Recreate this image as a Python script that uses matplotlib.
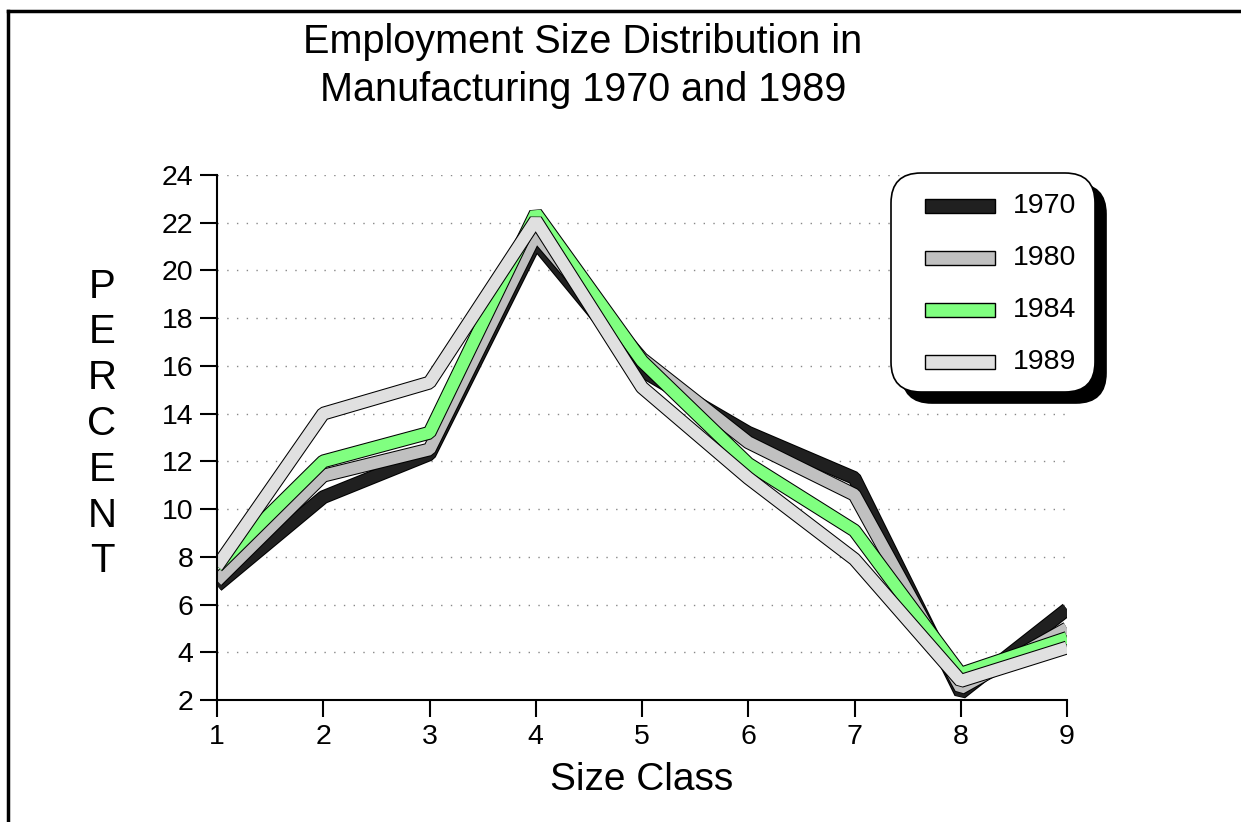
import numpy as np
import matplotlib.pyplot as plt
import matplotlib.patheffects as pe
from matplotlib.patches import FancyBboxPatch, Rectangle
from matplotlib.lines import Line2D
from matplotlib.transforms import Affine2D

plt.rcParams['font.family'] = ['Liberation Sans', 'DejaVu Sans']

size_class = [1, 2, 3, 4, 5, 6, 7, 8, 9]
pct_1970 = [6.8, 10.5, 12.3, 21.2, 15.8, 13.2, 11.3, 2.3, 5.8]
pct_1980 = [7.0, 11.4, 12.5, 21.5, 16.3, 12.8, 10.6, 2.5, 5.0]
pct_1984 = [7.6, 12.0, 13.2, 22.4, 16.2, 11.9, 9.1, 3.1, 4.6]
pct_1989 = [7.6, 14.0, 15.3, 22.1, 15.1, 11.3, 7.9, 2.8, 4.2]

years = ['1970', '1980', '1984', '1989']
colors = ['#202020', '#c0c0c0', '#80ff80', '#e0e0e0']
series = [pct_1970, pct_1980, pct_1984, pct_1989]

W, H = 1241, 822
fig = plt.figure(figsize=(W / 100, H / 100), dpi=100)
# pixel coordinates, y pointing down
px = Affine2D().scale(1 / W, -1 / H).translate(0, 1) + fig.transFigure

ax = fig.add_axes([217 / W, 1 - 700 / H, (1067 - 217) / W, (700 - 175) / H])

for vals, c in zip(series, colors):
    ax.plot(size_class, vals, color=c, lw=8.5, solid_joinstyle='bevel',
            solid_capstyle='butt',
            path_effects=[pe.Stroke(linewidth=10, foreground='black'), pe.Normal()])

ax.set_xlim(1, 9)
ax.set_ylim(2, 24)
ax.set_xticks(size_class)
ax.set_yticks(np.arange(2, 25, 2))
ax.tick_params(axis='both', direction='out', length=12, width=1.5, labelsize=20.5, pad=5)
for s in ['top', 'right']:
    ax.spines[s].set_visible(False)
for s in ['left', 'bottom']:
    ax.spines[s].set_linewidth(1.5)

for yv in np.arange(4, 25, 2):
    ax.axhline(yv, color='#888888', lw=1, ls=(0, (1, 6)), zorder=0)

fig.text(583, 66, 'Employment Size Distribution in\nManufacturing 1970 and 1989',
         transform=px, ha='center', va='center', fontsize=28.5, linespacing=1.33)
fig.text(642, 780, 'Size Class', transform=px, ha='center', va='center', fontsize=28)
fig.text(102, 424, '\n'.join('PERCENT'), transform=px, ha='center', va='center',
         fontsize=29, linespacing=1.26)

# frame around the picture (top and left)
fig.add_artist(Line2D([8, W], [11, 11], color='black', lw=2.5, transform=px))
fig.add_artist(Line2D([8, 8], [11, H], color='black', lw=2.5, transform=px))

# legend box with hard black shadow
lx0, lx1, ly0, ly1 = 891, 1095, 173, 392
r = 30
for d, fc in [(11, 'black'), (0, 'white')]:
    fig.add_artist(FancyBboxPatch((lx0 + r + d, ly0 + r + d), lx1 - lx0 - 2 * r,
                                  ly1 - ly0 - 2 * r, boxstyle='round,pad=%d' % r,
                                  transform=px, facecolor=fc, edgecolor='black',
                                  lw=1.2, zorder=5))
for i, (yr, c) in enumerate(zip(years, colors)):
    yc = 206 + 52 * i
    fig.add_artist(Rectangle((925, yc - 7), 70, 14, facecolor=c, edgecolor='black',
                             lw=1, transform=px, zorder=6))
    fig.text(1013, yc, yr, transform=px, ha='left', va='center', fontsize=20.5, zorder=6)

fig.savefig('out.png', dpi=100)
